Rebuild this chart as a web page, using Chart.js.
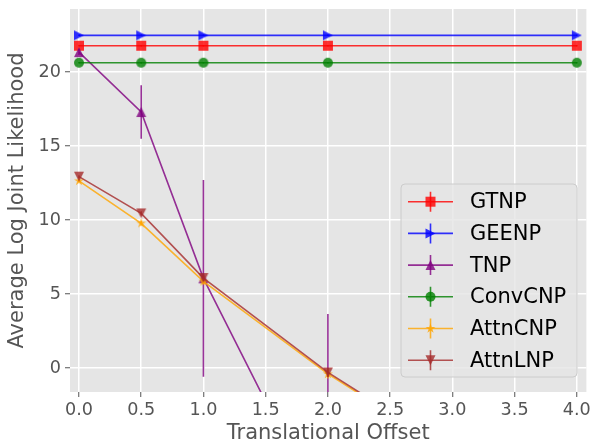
<!DOCTYPE html>
<html>
<head>
<meta charset="utf-8">
<script src="https://cdn.jsdelivr.net/npm/chart.js@4.4.1/dist/chart.umd.min.js"></script>
<style>
  html, body { margin: 0; padding: 0; background: #fff; }
  canvas { display: block; }
</style>
</head>
<body>
<canvas id="llChart" width="593" height="444"></canvas>
<script>
// translational offsets evaluated
const offsets = [0, 0.5, 1, 2, 4];
const xTicks = [0, 0.5, 1, 1.5, 2, 2.5, 3, 3.5, 4];
const yTicks = [0, 5, 10, 15, 20];

const models = ['GTNP', 'GEENP', 'TNP', 'ConvCNP', 'AttnCNP', 'AttnLNP'];

// mean log joint likelihood and std per model
const gtnpMean    = [21.78, 21.78, 21.78, 21.78, 21.78];
const gtnpErr     = [0.05, 0.05, 0.05, 0.05, 0.05];
const geenpMean   = [22.48, 22.48, 22.48, 22.48, 22.48];
const geenpErr    = [0.05, 0.05, 0.05, 0.05, 0.05];
const tnpMean     = [21.35, 17.3, 6.06, -10.6, -45.0];
const tnpErr      = [0.2, 1.8, 6.65, 14.25, 10.0];
const convcnpMean = [20.63, 20.63, 20.63, 20.63, 20.63];
const convcnpErr  = [0.05, 0.05, 0.05, 0.05, 0.05];
const attncnpMean = [12.65, 9.78, 5.85, -0.4, -11.0];
const attncnpErr  = [0.1, 0.15, 0.2, 0.3, 0.5];
const attnlnpMean = [12.93, 10.45, 6.08, -0.3, -10.9];
const attnlnpErr  = [0.1, 0.15, 0.2, 0.3, 0.5];

const means = [gtnpMean, geenpMean, tnpMean, convcnpMean, attncnpMean, attnlnpMean];
const errs = [gtnpErr, geenpErr, tnpErr, convcnpErr, attncnpErr, attnlnpErr];
const colors = [
    'rgba(255,0,0,0.8)', 'rgba(0,0,255,0.8)', 'rgba(128,0,128,0.8)',
    'rgba(0,128,0,0.8)', 'rgba(255,165,0,0.8)', 'rgba(165,42,42,0.8)'
];
const markers = ['square', 'triRight', 'triUp', 'circle', 'star', 'triDown'];

const FONT = 'DejaVu Sans';
const MS = 10;

function drawMarker(ctx, kind, x, y, s, color) {
    const h = s / 2;
    ctx.fillStyle = color;
    ctx.beginPath();
    if (kind === 'square') {
        ctx.rect(x - h, y - h, s, s);
    } else if (kind === 'circle') {
        ctx.arc(x, y, h, 0, Math.PI * 2);
    } else if (kind === 'triUp') {
        ctx.moveTo(x, y - h); ctx.lineTo(x - h, y + h); ctx.lineTo(x + h, y + h);
    } else if (kind === 'triDown') {
        ctx.moveTo(x, y + h); ctx.lineTo(x - h, y - h); ctx.lineTo(x + h, y - h);
    } else if (kind === 'triRight') {
        ctx.moveTo(x + h, y); ctx.lineTo(x - h, y - h); ctx.lineTo(x - h, y + h);
    } else if (kind === 'star') {
        for (let k = 0; k < 10; k++) {
            const r = k % 2 === 0 ? h * 1.05 : h * 1.05 * 0.382;
            const a = -Math.PI / 2 + k * Math.PI / 5;
            const px = x + r * Math.cos(a), py = y + r * Math.sin(a);
            if (k === 0) ctx.moveTo(px, py); else ctx.lineTo(px, py);
        }
    }
    ctx.closePath();
    ctx.fill();
}

function markerCanvas(kind, color) {
    const c = document.createElement('canvas');
    c.width = 16; c.height = 16;
    drawMarker(c.getContext('2d'), kind, 8, 8, MS, color);
    return c;
}

const datasets = models.map((name, i) => ({
    label: name,
    data: offsets.map((x, j) => ({ x: x, y: means[i][j] })),
    errors: errs[i],
    showLine: true,
    borderColor: colors[i],
    backgroundColor: colors[i],
    borderWidth: 1.6,
    pointStyle: markerCanvas(markers[i], colors[i]),
    marker: markers[i],
    pointRadius: 5,
    order: models.length - i
}));

const plotBackground = {
    id: 'plotBackground',
    beforeDraw(chart) {
        const { ctx, chartArea: a } = chart;
        ctx.save();
        ctx.fillStyle = '#E5E5E5';
        ctx.fillRect(a.left, a.top, a.right - a.left, a.bottom - a.top);
        ctx.restore();
    }
};

const errorBars = {
    id: 'errorBars',
    beforeDatasetDraw(chart, args) {
        const ds = chart.data.datasets[args.index];
        const { ctx, chartArea: a, scales } = chart;
        ctx.save();
        ctx.beginPath();
        ctx.rect(a.left, a.top, a.right - a.left, a.bottom - a.top);
        ctx.clip();
        ctx.strokeStyle = ds.borderColor;
        ctx.lineWidth = 1.6;
        ds.data.forEach((p, j) => {
            const px = scales.x.getPixelForValue(p.x);
            ctx.beginPath();
            ctx.moveTo(px, scales.y.getPixelForValue(p.y + ds.errors[j]));
            ctx.lineTo(px, scales.y.getPixelForValue(p.y - ds.errors[j]));
            ctx.stroke();
        });
        ctx.restore();
    }
};

const boxLegend = {
    id: 'boxLegend',
    afterDraw(chart) {
        const ctx = chart.ctx;
        const left = 401, top = 184, w = 176, h = 193, rowH = 31.7;
        ctx.save();
        ctx.beginPath();
        ctx.roundRect(left, top, w, h, 4);
        ctx.fillStyle = 'rgba(229,229,229,0.8)';
        ctx.fill();
        ctx.strokeStyle = '#CCCCCC';
        ctx.lineWidth = 1;
        ctx.stroke();
        ctx.font = '21px "' + FONT + '"';
        ctx.textBaseline = 'middle';
        chart.data.datasets.forEach((ds, i) => {
            const y = top + 17.7 + i * rowH;
            ctx.strokeStyle = ds.borderColor;
            ctx.lineWidth = 1.6;
            ctx.beginPath();
            ctx.moveTo(408, y); ctx.lineTo(453, y);
            ctx.moveTo(430.5, y - 10); ctx.lineTo(430.5, y + 10);
            ctx.stroke();
            drawMarker(ctx, ds.marker, 430.5, y, MS, ds.borderColor);
            ctx.fillStyle = '#000';
            ctx.fillText(ds.label, 470, y + 1);
        });
        ctx.restore();
    }
};

const tickFont = { family: FONT, size: 17.6 };
const titleFont = { family: FONT, size: 21, lineHeight: 1 };
const gridStyle = { color: '#FFFFFF', lineWidth: 1.5, tickColor: '#555555', tickLength: 5, tickWidth: 1 };

new Chart(document.getElementById('llChart'), {
    type: 'scatter',
    data: { datasets: datasets },
    options: {
        responsive: false,
        animation: false,
        devicePixelRatio: 1,
        layout: { padding: { left: 0, right: 6, top: 9, bottom: 0 } },
        plugins: {
            legend: { display: false },
            tooltip: { enabled: false }
        },
        scales: {
            x: {
                type: 'linear',
                min: -0.072,
                max: 4.077,
                afterBuildTicks: s => { s.ticks = xTicks.map(v => ({ value: v })); },
                afterFit: s => {
                    s.height = 52;
                    s.paddingLeft = 0; s.paddingRight = 0;
                },
                ticks: {
                    callback: v => v.toFixed(1),
                    color: '#555555',
                    font: tickFont,
                    padding: 3,
                    maxRotation: 0,
                    autoSkip: false
                },
                grid: gridStyle,
                border: { display: false },
                title: {
                    display: true,
                    text: 'Translational Offset',
                    color: '#555555',
                    font: titleFont,
                    padding: { top: 0, bottom: 0 }
                }
            },
            y: {
                type: 'linear',
                min: -1.62,
                max: 24.26,
                afterBuildTicks: s => { s.ticks = yTicks.map(v => ({ value: v })); },
                afterFit: s => {
                    s.width = 70;
                    s.paddingTop = 0; s.paddingBottom = 0;
                },
                ticks: {
                    color: '#555555',
                    font: tickFont,
                    padding: 4
                },
                grid: gridStyle,
                border: { display: false },
                title: {
                    display: true,
                    text: 'Average Log Joint Likelihood',
                    color: '#555555',
                    font: titleFont,
                    padding: { top: 7, bottom: 0 }
                }
            }
        }
    },
    plugins: [plotBackground, errorBars, boxLegend]
});
</script>
</body>
</html>
